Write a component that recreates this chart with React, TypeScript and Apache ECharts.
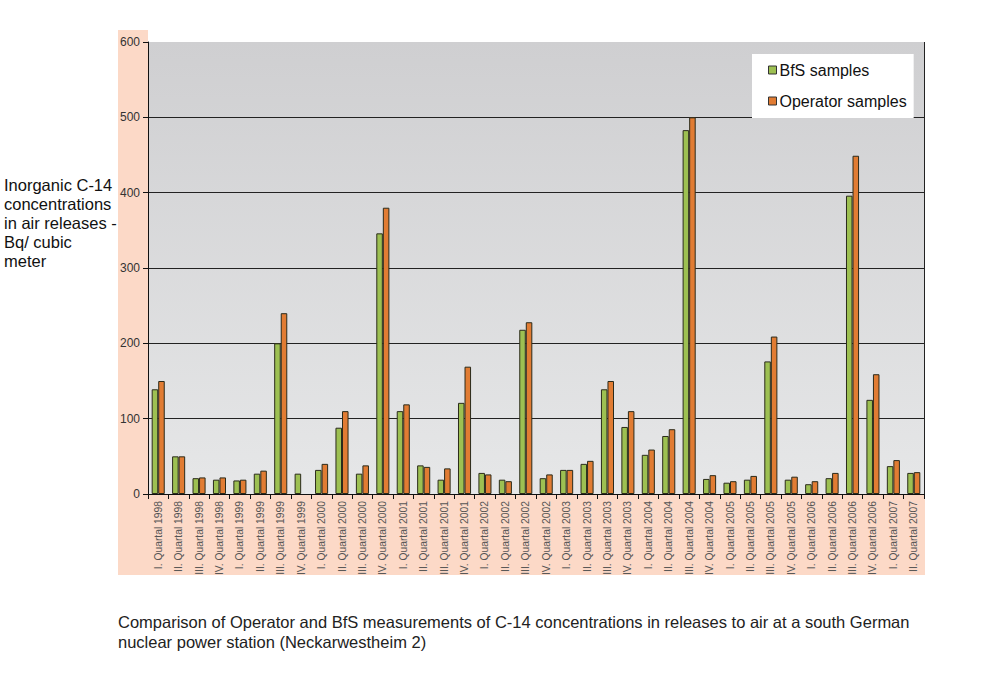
import React, { useEffect, useRef } from "react";
import * as echarts from "echarts";

const categories = [
  "I. Quartal 1998", "II. Quartal 1998", "III. Quartal 1998", "IV. Quartal 1998",
  "I. Quartal 1999", "II. Quartal 1999", "III. Quartal 1999", "IV. Quartal 1999",
  "I. Quartal 2000", "II. Quartal 2000", "III. Quartal 2000", "IV. Quartal 2000",
  "I. Quartal 2001", "II. Quartal 2001", "III. Quartal 2001", "IV. Quartal 2001",
  "I. Quartal 2002", "II. Quartal 2002", "III. Quartal 2002", "IV. Quartal 2002",
  "I. Quartal 2003", "II. Quartal 2003", "III. Quartal 2003", "IV. Quartal 2003",
  "I. Quartal 2004", "II. Quartal 2004", "III. Quartal 2004", "IV. Quartal 2004",
  "I. Quartal 2005", "II. Quartal 2005", "III. Quartal 2005", "IV. Quartal 2005",
  "I. Quartal 2006", "II. Quartal 2006", "III. Quartal 2006", "IV. Quartal 2006",
  "I. Quartal 2007", "II. Quartal 2007",
];

const bfsSamples = [
  139, 50, 21, 19, 18, 27, 200, 27, 32, 88, 27, 346, 110, 38, 19, 121, 28, 19, 218,
  21, 32, 40, 139, 89, 52, 77, 483, 20, 15, 19, 176, 19, 13, 21, 396, 125, 37, 28,
];

const operatorSamples = [
  150, 50, 22, 22, 19, 31, 240, null, 40, 110, 38, 380, 119, 36, 34, 169, 26, 17, 228,
  26, 32, 44, 150, 110, 59, 86, 500, 25, 17, 24, 209, 23, 17, 28, 449, 159, 45, 29,
];

const yTicks = { min: 0, max: 600, interval: 100 };

const yAxisTitle = "Inorganic C-14\nconcentrations\nin air releases -\nBq/ cubic\nmeter";
const caption =
  "Comparison of Operator and BfS measurements of C-14 concentrations in releases to air at a south German\nnuclear power station (Neckarwestheim 2)";

const FONT = "'Liberation Sans', Arial, sans-serif";
const GREEN = "#9dc052";
const ORANGE = "#e17c33";
const PEACH = "#fcd9c7";

export default function App() {
  const ref = useRef<HTMLDivElement>(null);

  useEffect(() => {
    if (!ref.current) return;
    const chart = echarts.init(ref.current, null, { renderer: "svg" });
    const gridL = 148, gridT = 42, gridW = 776, gridH = 452;
    chart.setOption({
      animation: false,
      backgroundColor: "#ffffff",
      textStyle: { fontFamily: FONT },
      grid: { left: gridL, top: gridT, width: gridW, height: gridH, containLabel: false },
      graphic: [
        { type: "rect", z: -20, silent: true, shape: { x: 118, y: 30, width: 30, height: 545 }, style: { fill: PEACH } },
        { type: "rect", z: -20, silent: true, shape: { x: 118, y: gridT + gridH, width: gridW + 31, height: 81 }, style: { fill: PEACH } },
        {
          type: "rect", z: -10, silent: true,
          shape: { x: gridL, y: gridT, width: gridW, height: gridH },
          style: {
            fill: new echarts.graphic.LinearGradient(0, 0, 0, 1, [
              { offset: 0, color: "#cfcfd1" },
              { offset: 1, color: "#e6e7e8" },
            ]),
          },
        },
        {
          type: "line", z: 5, silent: true,
          shape: { x1: gridL + gridW + 0.5, y1: gridT, x2: gridL + gridW + 0.5, y2: gridT + gridH },
          style: { stroke: "#222", lineWidth: 1 },
        },
        {
          type: "text", left: 4, top: 175,
          style: { text: yAxisTitle, font: `16.5px ${FONT}`, lineHeight: 19, fill: "#111" },
        },
        {
          type: "text", left: 118, top: 612,
          style: { text: caption, font: `16.5px ${FONT}`, lineHeight: 20, fill: "#222" },
        },
      ],
      legend: {
        orient: "vertical",
        left: 752,
        top: 54,
        padding: [8, 7, 9, 16],
        itemGap: 15,
        itemWidth: 8,
        itemHeight: 8,
        icon: "rect",
        backgroundColor: "#ffffff",
        itemStyle: { borderColor: "#333", borderWidth: 1 },
        textStyle: { fontSize: 16, color: "#111", fontFamily: FONT, padding: [0, 0, 0, -2] },
        data: ["BfS samples", "Operator samples"],
      },
      xAxis: {
        type: "category",
        data: categories,
        axisLine: { lineStyle: { color: "#111", width: 1 } },
        axisTick: { show: true, length: 5, lineStyle: { color: "#111" } },
        axisLabel: { interval: 0, rotate: 90, fontSize: 10.3, color: "#555", margin: 7, fontFamily: FONT },
      },
      yAxis: {
        type: "value",
        min: yTicks.min,
        max: yTicks.max,
        interval: yTicks.interval,
        axisLine: { show: true, lineStyle: { color: "#111", width: 1 } },
        axisTick: { show: true, length: 5, lineStyle: { color: "#111" } },
        axisLabel: { fontSize: 12, color: "#333", margin: 8, fontFamily: FONT },
        splitLine: {
          show: true,
          lineStyle: {
            color: ["#222", "#222", "#222", "#222", "#222", "#222", "rgba(0,0,0,0)"],
            width: 1,
          },
        },
      },
      series: [
        {
          name: "BfS samples",
          type: "bar",
          data: bfsSamples,
          barGap: "0%",
          barCategoryGap: "36%",
          itemStyle: { color: GREEN, borderColor: "#2b2b1b", borderWidth: 1 },
        },
        {
          name: "Operator samples",
          type: "bar",
          data: operatorSamples,
          barGap: "0%",
          barCategoryGap: "36%",
          itemStyle: { color: ORANGE, borderColor: "#2b2b1b", borderWidth: 1 },
        },
      ],
    });
    return () => chart.dispose();
  }, []);

  return <div ref={ref} style={{ width: 989, height: 683, position: "absolute", left: 0, top: 0 }} />;
}
